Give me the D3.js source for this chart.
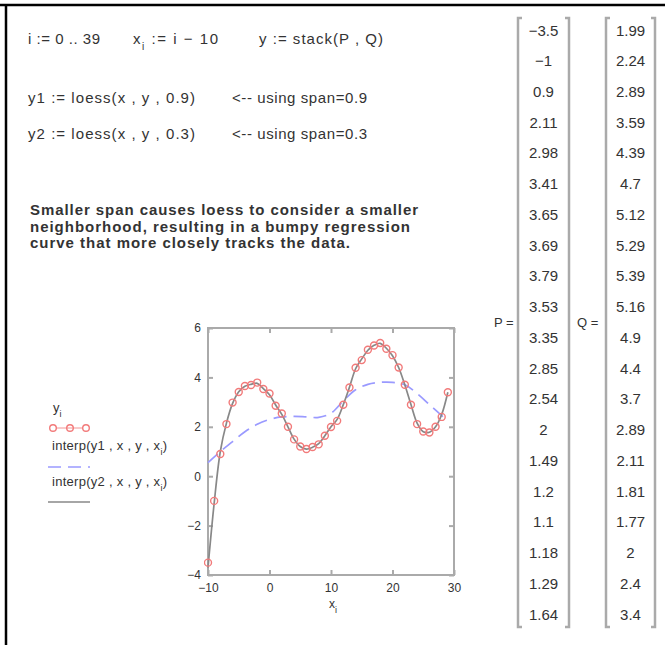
<!DOCTYPE html>
<html>
<head>
<meta charset="utf-8">
<script src="https://cdn.jsdelivr.net/npm/d3@7"></script>
<style>
  body { margin: 0; background: #fff; }
  text { font-family: "Liberation Sans", Arial, sans-serif; fill: #333; }
</style>
</head>
<body>
<div id="sheet"></div>
<script>
// data vectors, stack(P, Q) gives y, x_i = i - 10
var P = [-3.5, -1, 0.9, 2.11, 2.98, 3.41, 3.65, 3.69, 3.79, 3.53,
         3.35, 2.85, 2.54, 2, 1.49, 1.2, 1.1, 1.18, 1.29, 1.64];
var Q = [1.99, 2.24, 2.89, 3.59, 4.39, 4.7, 5.12, 5.29, 5.39, 5.16,
         4.9, 4.4, 3.7, 2.89, 2.11, 1.81, 1.77, 2, 2.4, 3.4];
var xVals = d3.range(0, 40).map(i => i - 10);
var yVals = P.concat(Q);

// loess span 0.9
var span9X = [-10, -8, -6, -4, -2, 0, 2, 4, 6, 8, 10, 12, 14, 16, 18, 20, 22, 24, 26, 28, 29];
var span9Y = [0.55, 1.0, 1.4, 1.8, 2.1, 2.3, 2.4, 2.42, 2.4, 2.38, 2.55, 3.05, 3.5, 3.72, 3.8, 3.8, 3.7, 3.35, 2.9, 2.45, 2.2];

// loess span 0.3 (hugs the data)
var span3Y = [-3.7, -1.1, 1.0, 2.15, 2.95, 3.42, 3.64, 3.72, 3.76, 3.55,
              3.3, 2.88, 2.5, 2.0, 1.5, 1.2, 1.1, 1.17, 1.32, 1.64,
              2.0, 2.3, 2.9, 3.6, 4.35, 4.75, 5.1, 5.3, 5.38, 5.18,
              4.88, 4.4, 3.7, 2.9, 2.15, 1.8, 1.78, 2.0, 2.5, 3.4];

var xTicks = [-10, 0, 10, 20, 30];
var yTicks = [-4, -2, 0, 2, 4, 6];

var W = 665, H = 645;
var svg = d3.select('#sheet').append('svg')
  .attr('width', W).attr('height', H);

// worksheet frame
svg.append('line').attr('x1', 0).attr('x2', W).attr('y1', 5).attr('y2', 5)
  .attr('stroke', '#000').attr('stroke-width', 2.5);
svg.append('line').attr('x1', 6).attr('x2', 6).attr('y1', 4).attr('y2', H)
  .attr('stroke', '#000').attr('stroke-width', 2.5);

// math regions: x, baseline, width, parts
function mathLine(px, py, len, parts) {
  var t = svg.append('text').attr('x', px).attr('y', py)
    .attr('font-size', '15px').attr('textLength', len).attr('lengthAdjust', 'spacing');
  parts.forEach(p => {
    var s = t.append('tspan').text(p.t);
    if (p.sub) s.attr('baseline-shift', 'sub').attr('font-size', '10px');
  });
  return t;
}

mathLine(28, 44, 72, [{t: 'i := 0 .. 39'}]);
mathLine(133, 44, 85, [{t: 'x'}, {t: 'i', sub: true}, {t: ' := i \u2212 10'}]);
mathLine(259, 44, 124, [{t: 'y := stack(P , Q)'}]);

mathLine(28, 103, 167, [{t: 'y1 := loess(x , y , 0.9)'}]);
mathLine(232, 103, 135, [{t: '<-- using span=0.9'}]);
mathLine(28, 139, 167, [{t: 'y2 := loess(x , y , 0.3)'}]);
mathLine(232, 139, 135, [{t: '<-- using span=0.3'}]);

var note = ['Smaller span causes loess to consider a smaller',
            'neighborhood, resulting in a bumpy regression',
            'curve that more closely tracks the data.'];
var noteLen = [388, 380, 320];
svg.append('g').selectAll('text').data(note).join('text')
  .attr('x', 30).attr('y', (d, i) => 215 + i * 16.7)
  .attr('font-size', '15px').attr('font-weight', 'bold')
  .attr('textLength', (d, i) => noteLen[i]).attr('lengthAdjust', 'spacing')
  .text(d => d);

// plot
var x = d3.scaleLinear().domain([-10, 30]).range([208, 454]);
var y = d3.scaleLinear().domain([-4, 6]).range([575, 328]);
var plot = svg.append('g');

plot.append('rect')
  .attr('x', x(-10)).attr('y', y(6))
  .attr('width', x(30) - x(-10)).attr('height', y(-4) - y(6))
  .attr('fill', 'none').attr('stroke', '#aaa').attr('stroke-width', 2);

function styleAxis(g) {
  g.select('.domain').remove();
  g.selectAll('.tick line').attr('stroke', '#aaa').attr('stroke-width', 2);
  g.selectAll('.tick text').attr('fill', '#444').attr('font-size', '12px')
    .attr('font-family', '"Liberation Sans", Arial, sans-serif');
}
plot.append('g').attr('transform', 'translate(0,' + y(-4) + ')')
  .call(d3.axisBottom(x).tickValues(xTicks).tickSize(-5).tickPadding(8))
  .call(styleAxis);
plot.append('g').attr('transform', 'translate(0,' + y(6) + ')')
  .call(d3.axisTop(x).tickValues(xTicks).tickSize(-5).tickFormat(''))
  .call(styleAxis);
plot.append('g').attr('transform', 'translate(' + x(-10) + ',0)')
  .call(d3.axisLeft(y).tickValues(yTicks).tickSize(-5).tickPadding(7))
  .call(styleAxis);
plot.append('g').attr('transform', 'translate(' + x(30) + ',0)')
  .call(d3.axisRight(y).tickValues(yTicks).tickSize(-5).tickFormat(''))
  .call(styleAxis);

var xl = plot.append('text').attr('x', 329).attr('y', 608).attr('font-size', '12px');
xl.append('tspan').text('x');
xl.append('tspan').text('i').attr('baseline-shift', 'sub').attr('font-size', '9px');

svg.append('clipPath').attr('id', 'clip').append('rect')
  .attr('x', x(-10) - 4).attr('y', y(6)).attr('width', x(30) - x(-10) + 4).attr('height', y(-4) - y(6));
var inner = plot.append('g').attr('clip-path', 'url(#clip)');

var line = d3.line().curve(d3.curveCatmullRom);
inner.append('path')
  .attr('d', line(span9X.map((v, i) => [x(v), y(span9Y[i])])))
  .attr('fill', 'none').attr('stroke', '#9a9aff').attr('stroke-width', 1.7)
  .attr('stroke-dasharray', '13,7');
inner.append('path')
  .attr('d', line(xVals.map((v, i) => [x(v), y(span3Y[i])])))
  .attr('fill', 'none').attr('stroke', '#888').attr('stroke-width', 1.7);
inner.selectAll('circle').data(xVals).join('circle')
  .attr('cx', d => x(d)).attr('cy', (d, i) => y(yVals[i])).attr('r', 3.5)
  .attr('fill', 'none').attr('stroke', '#f27a7a').attr('stroke-width', 1.4);

// legend (trace labels on the y side)
var leg = svg.append('g').attr('font-size', '13px');
var yl = leg.append('text').attr('x', 53).attr('y', 412);
yl.append('tspan').text('y');
yl.append('tspan').text('i').attr('baseline-shift', 'sub').attr('font-size', '9px');
leg.selectAll('circle').data([53, 70, 86]).join('circle')
  .attr('cx', d => d).attr('cy', 428).attr('r', 3.3)
  .attr('fill', 'none').attr('stroke', '#f27a7a').attr('stroke-width', 1.4);
leg.append('line').attr('x1', 56).attr('x2', 83).attr('y1', 428).attr('y2', 428)
  .attr('stroke', '#f27a7a').attr('stroke-width', 0.8);

[['interp(y1 , x , y , x', 450], ['interp(y2 , x , y , x', 486]].forEach(r => {
  var t = leg.append('text').attr('x', 52).attr('y', r[1])
    .attr('textLength', 115).attr('lengthAdjust', 'spacing');
  t.append('tspan').text(r[0]);
  t.append('tspan').text('i').attr('baseline-shift', 'sub').attr('font-size', '9px');
  t.append('tspan').text(')');
});
leg.append('line').attr('x1', 48).attr('x2', 90).attr('y1', 467).attr('y2', 467)
  .attr('stroke', '#9a9aff').attr('stroke-width', 1.7).attr('stroke-dasharray', '13,7');
leg.append('line').attr('x1', 48).attr('x2', 90).attr('y1', 502).attr('y2', 502)
  .attr('stroke', '#888').attr('stroke-width', 1.7);

// matrices P and Q
var rowY = d3.scaleLinear().domain([0, 19]).range([30, 614]);
function matrix(vals, left, right, label, labelX) {
  var g = svg.append('g');
  [left, right].forEach((bx, k) => {
    var dir = k === 0 ? 4 : -4;
    g.append('path')
      .attr('d', 'M' + (bx + dir) + ',18H' + bx + 'V627H' + (bx + dir))
      .attr('fill', 'none').attr('stroke', '#aaa').attr('stroke-width', 2.5);
  });
  g.selectAll('text.v').data(vals).join('text').attr('class', 'v')
    .attr('x', (left + right) / 2).attr('y', (d, i) => rowY(i) + 5.5)
    .attr('text-anchor', 'middle').attr('font-size', '15px')
    .text(d => d < 0 ? '\u2212' + Math.abs(d) : d);
  g.append('text').attr('x', labelX).attr('y', 327).attr('font-size', '13px').text(label + ' =');
}
matrix(P, 518, 569, 'P', 494);
matrix(Q, 606, 655, 'Q', 577);
</script>
</body>
</html>
